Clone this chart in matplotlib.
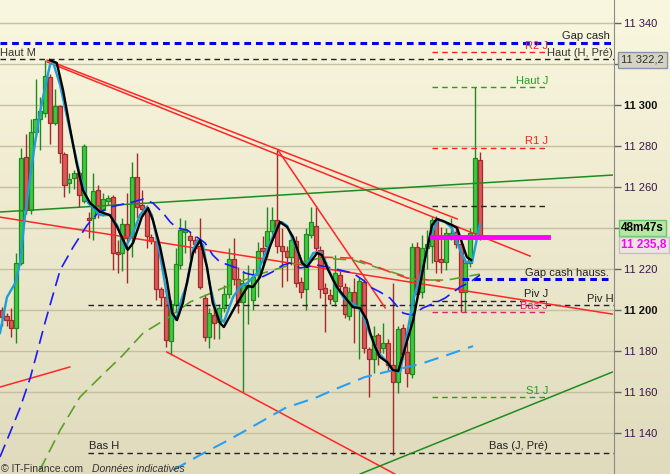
import numpy as np
import matplotlib.pyplot as plt
from matplotlib.colors import LinearSegmentedColormap

plt.rcParams['font.family'] = ['Liberation Sans', 'DejaVu Sans']

# 5-min candles (price points)
opens = [11200, 11197, 11195, 11191, 11223, 11274.5, 11249, 11287, 11293, 11296,
         11313.5, 11291, 11299.5, 11276, 11262, 11264.5, 11267, 11253, 11245, 11245,
         11258.5, 11249, 11253, 11255, 11228.5, 11228, 11242, 11236, 11265, 11251,
         11249.5, 11235.5, 11233, 11210, 11206.5, 11185, 11202.5, 11222, 11238, 11236,
         11234, 11231, 11206, 11187, 11197.6, 11194, 11201, 11208, 11225, 11215,
         11204, 11211, 11205, 11217, 11230, 11231, 11238.7, 11244, 11231, 11229,
         11226, 11233.6, 11213.5, 11210, 11236.6, 11241, 11229.3, 11210.6, 11207.3, 11204.5,
         11217, 11211.4, 11197.2, 11209, 11201, 11213.8, 11180.8, 11176, 11187.8, 11181.3,
         11183.7, 11173, 11165, 11191, 11179.3, 11168.8, 11230.9, 11208.6, 11230, 11231.2,
         11243.8, 11225, 11223.3, 11235.5, 11238.2, 11232, 11209, 11222.8, 11237.4, 11273.2]
highs = [11201.6, 11198.5, 11201, 11228, 11279, 11286, 11293, 11312.5, 11304, 11322,
         11315, 11308, 11300, 11277, 11267, 11268.5, 11268, 11281, 11248, 11267,
         11261, 11257, 11256, 11256, 11234, 11245, 11257, 11272, 11276.5, 11258.5,
         11251, 11237, 11235, 11211, 11207, 11205, 11230, 11245, 11244, 11238,
         11236, 11245, 11208, 11201, 11203, 11203, 11212, 11230, 11235, 11221,
         11219, 11222, 11220, 11233, 11236, 11250, 11250, 11278, 11240, 11231,
         11237, 11236, 11216, 11240, 11250.4, 11250, 11231, 11213, 11210, 11227,
         11219, 11213, 11211, 11215.6, 11216, 11215, 11182, 11192, 11189, 11193.5,
         11186, 11213, 11192, 11193, 11184.5, 11232.7, 11233, 11236.6, 11239, 11245.5,
         11246, 11240.6, 11240, 11244.7, 11240, 11234, 11224, 11240, 11308.6, 11277]
lows = [11192, 11192, 11187, 11184, 11222, 11247, 11247, 11285, 11278, 11294,
        11281, 11290, 11271.5, 11255, 11257, 11259, 11250, 11252, 11235, 11234,
        11245, 11246, 11251, 11219.5, 11218, 11219, 11213, 11226, 11245, 11246,
        11230, 11232, 11205, 11202, 11182, 11178, 11199, 11220, 11228, 11225,
        11228, 11210, 11185, 11181.5, 11186, 11186, 11199, 11206, 11212, 11198.5,
        11160, 11193, 11200, 11206.5, 11222, 11226, 11236, 11228, 11211.4, 11214,
        11222, 11211, 11206, 11200, 11235, 11228, 11206, 11189.5, 11203, 11202,
        11209, 11196, 11195, 11184, 11176, 11179, 11157.7, 11169.3, 11173, 11179,
        11170, 11129.5, 11159.5, 11176, 11162.6, 11167, 11206, 11206, 11220, 11222.8,
        11218, 11218, 11219.5, 11234, 11230, 11199, 11199, 11221, 11236, 11234]
closes = [11196.7, 11195, 11191, 11223, 11274, 11249, 11287, 11293, 11297, 11314,
          11291, 11299.5, 11276.5, 11261, 11264, 11267, 11256, 11280, 11244, 11258,
          11249, 11254, 11254.5, 11228, 11227.5, 11242, 11235, 11265, 11250, 11249.5,
          11236, 11233.5, 11210, 11206.5, 11185.5, 11203, 11222.5, 11239, 11239, 11234,
          11232, 11211, 11187, 11198.6, 11193.8, 11201, 11208, 11225, 11215, 11204,
          11213, 11212, 11216, 11229, 11229, 11238.7, 11244, 11231, 11229, 11226,
          11234, 11213, 11208.6, 11237, 11243, 11230, 11210, 11208.2, 11205.2, 11217.9,
          11211.7, 11198, 11209, 11201.6, 11214, 11181.3, 11176, 11187.3, 11178, 11183.7,
          11173, 11165, 11190.5, 11178.5, 11169.5, 11230.6, 11207.8, 11230, 11232, 11243.8,
          11224, 11223.6, 11237.4, 11237.4, 11232, 11209, 11222.8, 11237.4, 11274, 11235.8]

# indicator lines (bar index, price)
black_x = [10.0, 11.4, 12.7, 14.1, 15.5, 16.8, 18.3, 20.4, 22.4, 23.9,
           26.1, 27.2, 29.0, 30.3, 31.3, 32.8, 34.2, 35.3, 36.3, 37.5,
           39.6, 41.1, 42.5, 43.7, 45.2, 46.0, 48.5, 51.0, 52.0, 53.5,
           55.5, 57.6, 59.1, 60.3, 62.2, 63.2, 65.3, 66.3, 67.6, 69.4,
           71.5, 72.7, 74.2, 75.6, 76.3, 77.3, 78.3, 79.8, 81.0, 82.1,
           85.2, 87.6, 89.1, 90.1, 91.4, 93.2, 94.3, 95.3, 96.3, 97.2]
black_y = [11321.9, 11320.5, 11307.3, 11289.2, 11271.7, 11258.5, 11252.2, 11247.8, 11246.3, 11240.5,
           11229.3, 11232.7, 11245.3, 11249.7, 11243.9, 11230.7, 11214.6, 11198.5, 11195.1, 11203.4,
           11227.8, 11234.1, 11221.0, 11203.4, 11193.6, 11191.7, 11202.4, 11211.7, 11211.2, 11216.1,
           11230.7, 11242.9, 11240.5, 11235.6, 11222.9, 11221.0, 11227.8, 11226.8, 11219.5, 11211.2,
           11204.9, 11201.4, 11200.9, 11195.1, 11188.8, 11182.0, 11177.1, 11174.6, 11170.7, 11170.2,
           11195.1, 11224.4, 11241.4, 11244.4, 11243.4, 11241.4, 11240.0, 11232.7, 11225.8, 11224.4]

cyan_x = [-0.35, 1.1, 2.8, 3.8, 4.8, 5.9, 6.9, 7.9, 9.0, 10.0,
          10.6, 12.1, 14.1, 16.2, 17.9, 20.4, 22.4, 23.9, 25.5, 27.2,
          28.6, 30.1, 31.1, 32.8, 34.2, 35.3, 36.1, 37.3, 38.4, 39.6,
          40.6, 41.7, 43.1, 44.6, 46.0, 47.9, 49.3, 50.8, 52.9, 54.9,
          57.0, 58.0, 59.1, 60.3, 62.4, 63.4, 64.5, 65.9, 67.1, 69.0,
          71.1, 73.2, 74.6, 76.3, 77.9, 79.4, 81.0, 82.5, 85.2, 87.2,
          88.7, 90.3, 91.8, 93.2, 94.9, 96.1, 97.4, 99.0]
cyan_y = [11188.8, 11206.3, 11213.1, 11222.9, 11245.3, 11264.9, 11281.4, 11296.1, 11308.8, 11319.5,
          11321.0, 11309.7, 11287.8, 11265.8, 11252.2, 11246.3, 11246.3, 11241.4, 11230.2, 11237.5,
          11246.3, 11250.2, 11246.3, 11226.8, 11207.3, 11197.5, 11195.1, 11205.8, 11213.1, 11229.3,
          11234.1, 11231.7, 11212.2, 11197.5, 11194.1, 11206.3, 11211.2, 11213.1, 11218.0, 11229.3,
          11240.5, 11242.9, 11241.0, 11234.1, 11221.9, 11222.9, 11227.8, 11228.3, 11223.4, 11212.2,
          11204.9, 11202.4, 11199.0, 11187.8, 11179.5, 11175.6, 11170.7, 11169.7, 11204.9, 11221.0,
          11235.6, 11243.9, 11242.9, 11240.0, 11229.3, 11223.4, 11223.4, 11241.9]

blue_x = [-0.35, 1.7, 3.8, 5.9, 7.3, 9.0, 12.1, 14.8, 17.7, 19.9,
          22.4, 27.2, 29.3, 31.3, 33.4, 34.9, 36.3, 38.4, 40.4, 42.1,
          43.7, 45.2, 48.7, 50.4, 53.9, 56.0, 58.2, 59.7, 61.8, 65.3,
          67.4, 70.0, 72.7, 74.8, 76.3, 78.3, 80.4, 83.1, 84.9, 87.2,
          89.7, 91.8, 94.9, 97.0, 99.0]
blue_y = [11128.3, 11140.0, 11152.2, 11166.8, 11179.0, 11194.1, 11219.5, 11230.7, 11241.4, 11247.3,
          11250.2, 11252.7, 11254.1, 11252.2, 11247.3, 11242.9, 11240.0, 11239.0, 11235.6, 11232.7,
          11226.8, 11223.4, 11220.5, 11218.0, 11216.1, 11218.5, 11221.9, 11222.9, 11220.5, 11221.9,
          11221.0, 11219.5, 11218.0, 11214.6, 11211.2, 11208.8, 11205.8, 11198.5, 11197.5, 11201.0,
          11203.4, 11205.8, 11211.2, 11213.6, 11217.0]

gma_x = [7.9, 12.1, 16.2, 20.4, 25.1, 29.3, 34.4, 39.0, 45.8, 54.1, 59.7, 65.9, 72.7, 79.4, 86.0, 92.2, 99.0]
gma_y = [11121.9, 11141.4, 11157.5, 11167.3, 11178.0, 11188.8, 11196.1, 11203.9, 11210.7, 11218.0,
         11221.9, 11225.3, 11224.4, 11219.5, 11214.6, 11214.6, 11217.5]

lb_x = [35.5, 41.1, 46.6, 51.4, 58.7, 64.9, 69.6, 75.2, 79.4, 86.6, 92.2, 97.6]
lb_y = [11121.9, 11129.3, 11136.1, 11142.4, 11152.2, 11157.1, 11161.9, 11167.3, 11169.7, 11173.6, 11178.0, 11182.4]

rma_x = [65.9, 72.7, 76.3, 80.4, 83.9, 90.8]
rma_y = [11225.8, 11225.3, 11222.4, 11218.5, 11215.6, 11214.1]

# trend lines: (x0, y0, x1, y1)
red_trends = [(9.4, 11321.9, 94.3, 11244.4), (9.4, 11321.0, 109.4, 11226.3),
              (57.2, 11278.0, 79.4, 11201.0), (-0.35, 11245.3, 126.4, 11198.0),
              (34.2, 11179.5, 81.4, 11120.0), (-0.35, 11162.4, 14.1, 11172.2)]
green_trends = [(-0.35, 11247.8, 126.4, 11265.8), (74.2, 11120.0, 126.4, 11169.7)]

# levels
gap_cash = 11330.2
haut_h = 11322.2
day_levels = [("R2 J", 11325.7, '#ff2020'), ("Haut J", 11308.6, '#22a022'),
              ("R1 J", 11279.2, '#ff2020'), ("", 11250.7, '#222222'),
              ("Piv J", 11204.4, '#222222'), ("Bas J", 11198.9, '#e0207a'),
              ("S1 J", 11157.4, '#22a022')]
last_price = 11235.8
piv_h = 11202.4
bas_h = 11130.3
gap_hauss = 11215.0
day_start, day_end = 89.1, 113.1
week_start = 17.9

W, H = 670, 474
fig = plt.figure(figsize=(W / 100, H / 100), dpi=100)

bg = fig.add_axes([0, 0, 1, 1], zorder=-5)
cmap = LinearSegmentedColormap.from_list('bg', ['#f9f7df', '#e0dbbd'])
bg.imshow(np.linspace(0, 1, 256)[:, None], cmap=cmap, aspect='auto', extent=[0, 1, 0, 1])
bg.axis('off')

ax = fig.add_axes([0, 0, 614 / W, 1])
ax.set_facecolor('none')
ax.set_xlim(-0.35, 126.77)
ax.set_ylim(11120, 11351.2)
for s in ['left', 'top', 'bottom']:
    ax.spines[s].set_visible(False)
ax.spines['right'].set_color('#8a8a8a')
ax.set_xticks([])
ax.yaxis.tick_right()
ticks = list(range(11140, 11341, 20))
ax.set_yticks(ticks)
# 11 320 and 11 240 sit under the price boxes
ax.set_yticklabels(['' if t in (11320, 11240) else '{:,}'.format(t).replace(',', ' ') for t in ticks])
ax.tick_params(axis='y', length=5, width=1, color='#666666', labelcolor='#3a1448',
               labelsize=8, pad=2)
for t, lab in zip(ticks, ax.get_yticklabels()):
    if t % 100 == 0:
        lab.set_fontweight('bold')
        lab.set_color('#111111')
ax.grid(axis='y', color='#c6c0a2', lw=1)
ax.set_axisbelow(True)

# candles
idx = np.arange(len(opens))
o = np.array(opens); c = np.array(closes)
up = c >= o
edge = np.where(up, '#1f8a1f', '#a52a2a')
face = np.where(up, '#3fc93f', '#d85a5a')
ax.vlines(idx, lows, highs, colors=edge, lw=1, zorder=2)
ax.bar(idx, np.maximum(np.abs(c - o), 0.6), bottom=np.minimum(o, c), width=0.84,
       color=face, edgecolor=edge, lw=0.9, zorder=2.5)

# horizontal levels
ax.axhline(haut_h, color='#222222', lw=1, ls=(0, (4, 3)), zorder=3)
ax.axhline(gap_cash, color='#0000e6', lw=2.2, ls=(0, (2.2, 1.6)), zorder=3)
for name, lvl, col in day_levels:
    ax.plot([day_start, day_end], [lvl, lvl], color=col, lw=1, ls=(0, (4, 3)), zorder=3)
    if name:
        ax.annotate(name, (day_end, lvl), xytext=(0, 2.5), textcoords='offset points',
                    ha='right', va='baseline', color=col, fontsize=8, zorder=6)
ax.plot([week_start, 126.77], [piv_h, piv_h], color='#222222', lw=1, ls=(0, (4, 3)), zorder=3)
ax.plot([week_start, 126.77], [bas_h, bas_h], color='#222222', lw=1, ls=(0, (4, 3)), zorder=3)
ax.plot([95.3, 125.5], [gap_hauss, gap_hauss], color='#0000e6', lw=2.2, ls=(0, (2.2, 1.6)), zorder=3)

# trend lines
for x0, y0, x1, y1 in red_trends:
    ax.plot([x0, x1], [y0, y1], color='#ff2626', lw=1.1, zorder=4)
for x0, y0, x1, y1 in green_trends:
    ax.plot([x0, x1], [y0, y1], color='#1e8c1e', lw=1.1, zorder=4)

# indicators
ax.plot(lb_x, lb_y, color='#2a9ff0', lw=1.5, ls=(0, (7, 4)), zorder=4)
ax.plot(gma_x, gma_y, color='#5aa02a', lw=1.2, ls=(0, (8, 4)), zorder=4)
ax.plot(rma_x, rma_y, color='#ff3030', lw=1.2, ls=(0, (8, 4)), zorder=4)
ax.plot(blue_x, blue_y, color='#1a1aff', lw=1.2, ls=(0, (8, 4)), zorder=4)
ax.plot(cyan_x, cyan_y, color='#1e9fd8', lw=1.7, zorder=5)
ax.plot(black_x, black_y, color='#000000', lw=1.7, zorder=5.5)
ax.plot([day_start, day_end], [last_price, last_price], color='#ff00ff', lw=3.5, zorder=5.6)

# labels
ax.annotate("Haut M", (-0.35, haut_h), xytext=(0, 2.5), textcoords='offset points',
            ha='left', va='baseline', color='#333333', fontsize=8, zorder=6)
ax.annotate("Haut (H, Pré)", (126.6, haut_h), xytext=(0, 2.5), textcoords='offset points',
            ha='right', va='baseline', color='#333333', fontsize=8, zorder=6)
ax.annotate("Gap cash", (125.9, gap_cash), xytext=(0, 3), textcoords='offset points',
            ha='right', va='baseline', color='#222222', fontsize=8, zorder=6)
ax.annotate("Gap cash hauss.", (125.7, gap_hauss), xytext=(0, 2.5), textcoords='offset points',
            ha='right', va='baseline', color='#222222', fontsize=8, zorder=6)
ax.annotate("Piv H", (126.6, piv_h), xytext=(0, 2.5), textcoords='offset points',
            ha='right', va='baseline', color='#222222', fontsize=8, zorder=6)
ax.annotate("Bas H", (18.1, bas_h), xytext=(0, 2.5), textcoords='offset points',
            ha='left', va='baseline', color='#222222', fontsize=8, zorder=6)
ax.annotate("Bas (J, Pré)", (day_end, bas_h), xytext=(0, 2.5), textcoords='offset points',
            ha='right', va='baseline', color='#222222', fontsize=8, zorder=6)

# price boxes on the axis
fig.text(621 / W, 1 - 60 / H, "11 322,2", ha='left', va='center', fontsize=8, color='#333333',
         bbox=dict(boxstyle='square,pad=0.25', fc='#d7d3c3', ec='#8795aa', lw=1), zorder=10)
fig.text(621 / W, 1 - 228 / H, "48m47s", ha='left', va='center', fontsize=8.5, color='#000000',
         fontweight='bold',
         bbox=dict(boxstyle='square,pad=0.2', fc='#b4e8a4', ec='#6cc46c', lw=1), zorder=10)
fig.text(621 / W, 1 - 245 / H, "11 235,8", ha='left', va='center', fontsize=8.5, color='#ff00ff',
         fontweight='bold',
         bbox=dict(boxstyle='square,pad=0.2', fc='#ece6e2', ec='#c8c0c0', lw=1), zorder=10)

fig.text(1 / W, 1 - 464 / H, "© IT-Finance.com", ha='left', va='top', fontsize=7.5, color='#333333')
fig.text(92 / W, 1 - 464 / H, "Données indicatives", ha='left', va='top', fontsize=7.5,
         color='#333333', style='italic')

fig.savefig('out.png', dpi=100)
